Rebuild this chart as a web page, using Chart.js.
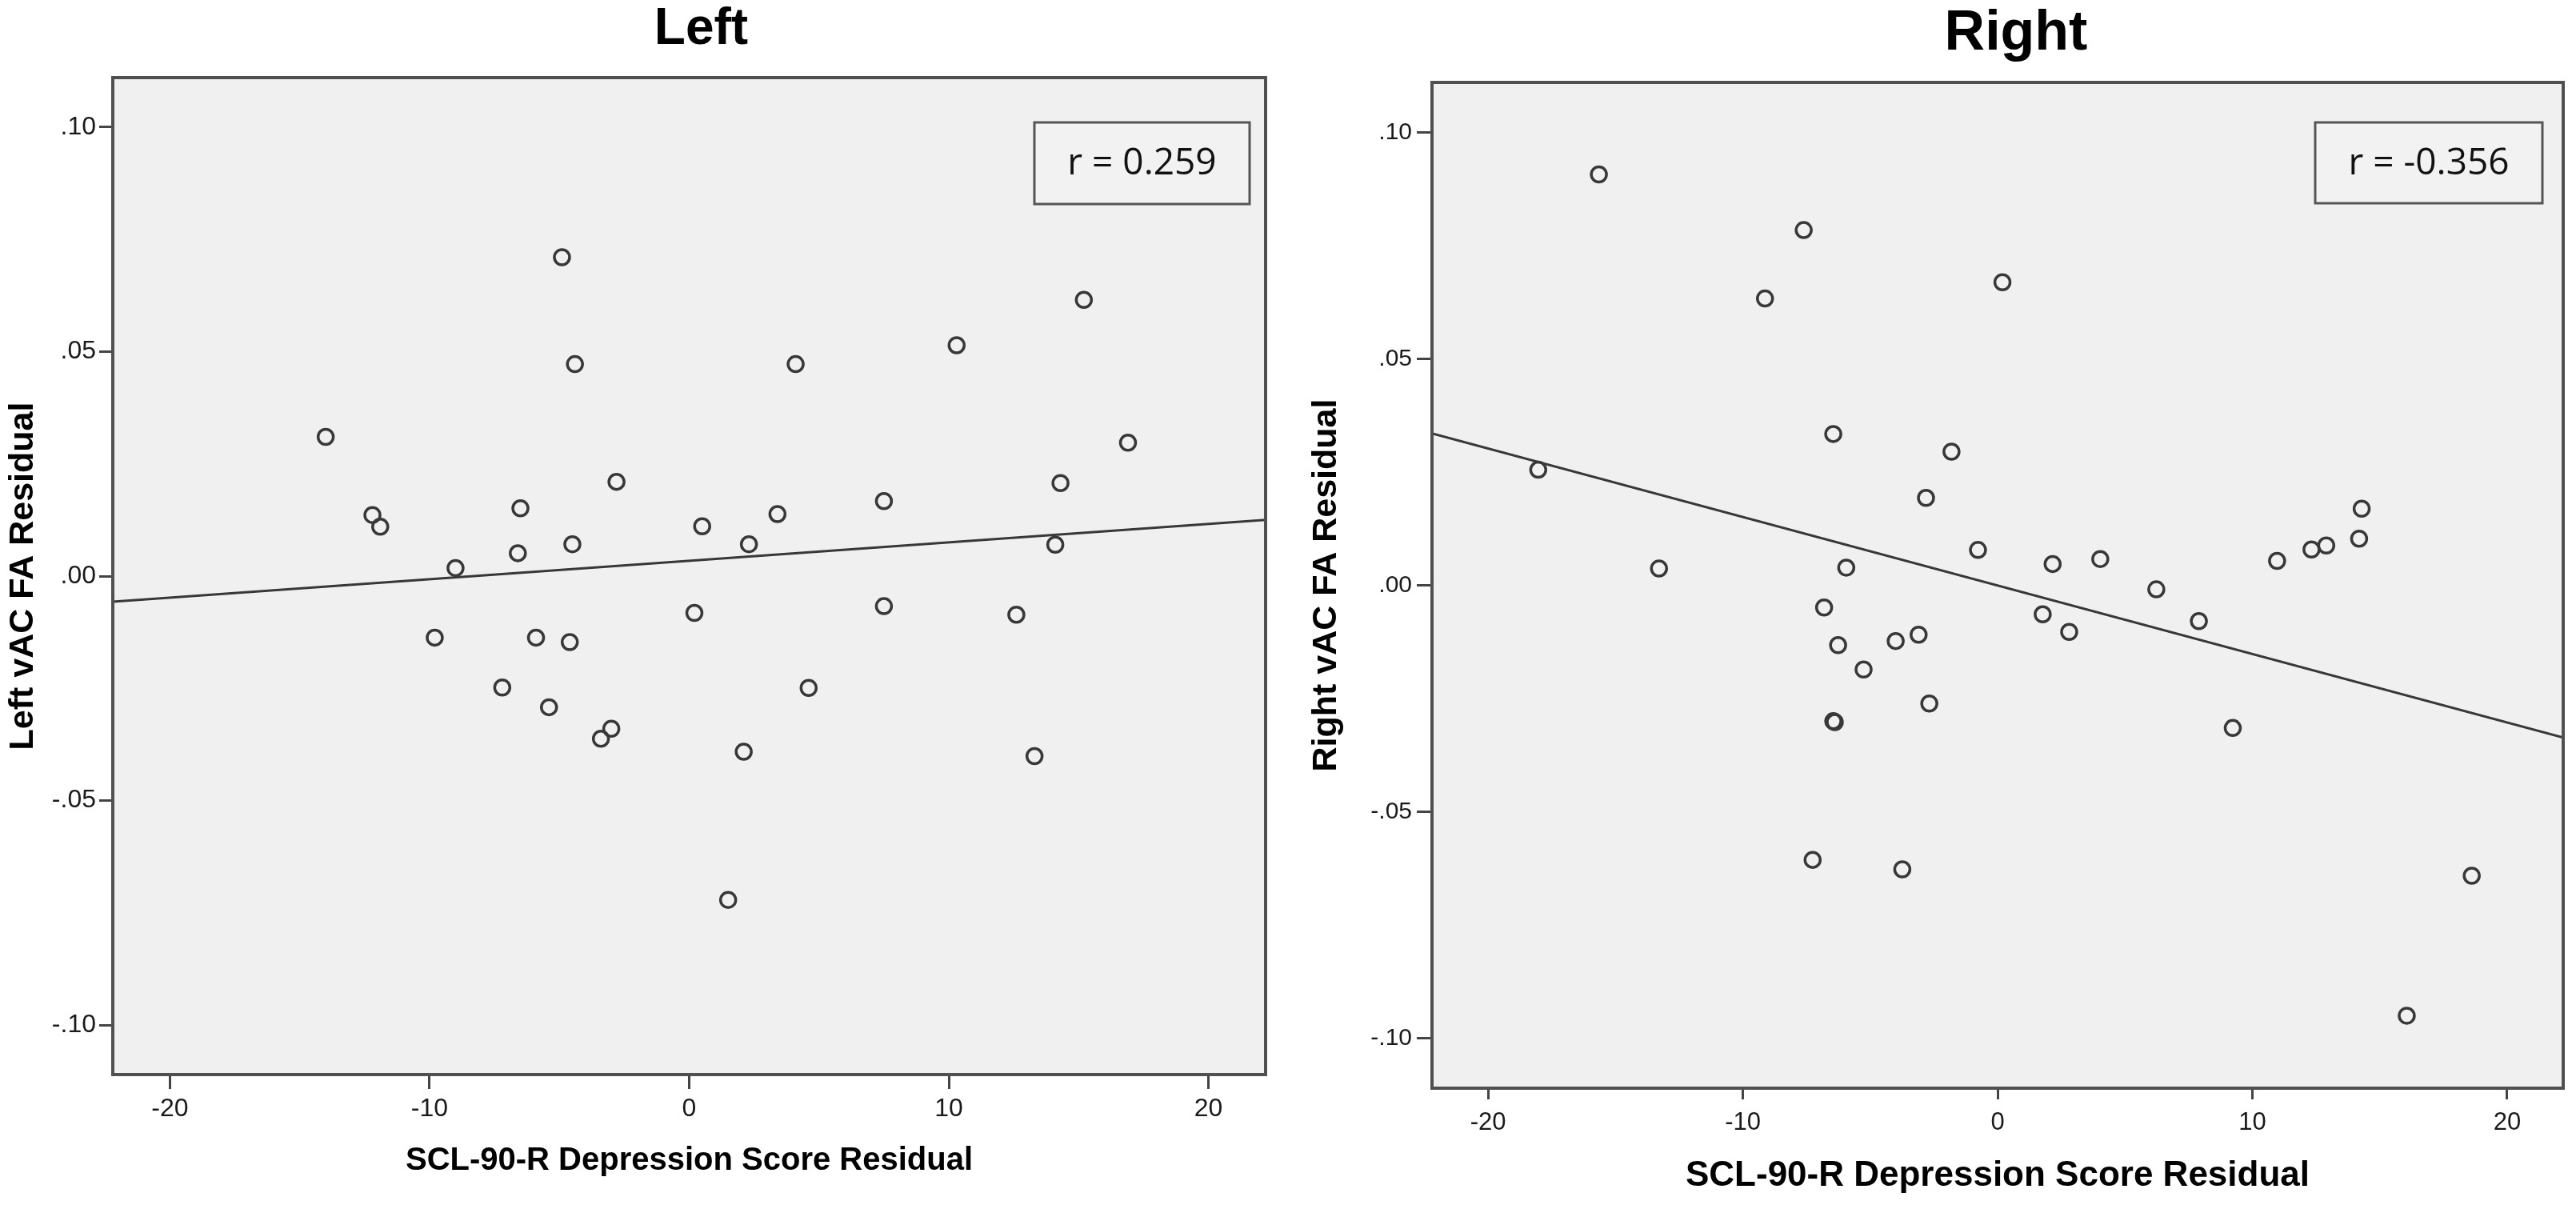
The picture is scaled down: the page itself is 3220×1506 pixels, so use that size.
<!DOCTYPE html>
<html>
<head>
<meta charset="utf-8">
<script src="https://cdn.jsdelivr.net/npm/chart.js@4.4.0/dist/chart.umd.min.js"></script>
<style>
  html, body { margin: 0; padding: 0; background: #fff; overflow: hidden; }
  .panel { position: absolute; top: 0; width: 1610px; height: 1506px; }
  #leftPanel { left: 0; }
  #rightPanel { left: 1610px; }
</style>
</head>
<body>
<div class="panel" id="leftPanel"><canvas id="leftChart"></canvas></div>
<div class="panel" id="rightPanel"><canvas id="rightChart"></canvas></div>
<script>
// Residuals
const leftX = [-14.0, -12.2, -11.9, -9.0, -6.6, -6.5, -4.9, -4.4, -4.5, -2.8, 0.5, 2.3, 3.4, 4.1, 7.5, 10.3, 15.2, 14.3, 14.1, 16.9,
  0.2, 7.5, 12.6, -9.8, -5.9, -4.6, -7.2, -5.4, -3.0, -3.4, 4.6, 2.1, 13.3, 1.5];
const leftY = [0.031, 0.0136, 0.011, 0.0018, 0.0051, 0.0151, 0.071, 0.0472, 0.0071, 0.021, 0.0111, 0.0071, 0.0138, 0.0472, 0.0167, 0.0514, 0.0615, 0.0207, 0.007, 0.0297,
  -0.0082, -0.0067, -0.0086, -0.0137, -0.0137, -0.0147, -0.0248, -0.0292, -0.034, -0.0362, -0.0249, -0.0391, -0.0401, -0.0721];

const rightX = [-15.65, -7.61, -9.13, 0.19, -6.45, -1.81, -18.03, -2.81, -0.77, -13.29, -5.94, 2.16, 4.03, 6.23, 10.97, 12.32, 12.9, 14.29, 14.19,
  -6.81, 1.77, 7.9, 2.81, -3.1, -4.0, -6.26, -5.26, -2.68, -6.45, -6.39, 9.23, -7.26, -3.74, 18.61, 16.06];
const rightY = [0.0907, 0.0784, 0.0633, 0.0669, 0.0334, 0.0295, 0.0255, 0.0193, 0.0078, 0.0037, 0.0039, 0.0047, 0.0058, -0.0009, 0.0054, 0.0079, 0.0088, 0.0169, 0.0103,
  -0.0049, -0.0064, -0.0079, -0.0103, -0.0109, -0.0123, -0.0132, -0.0186, -0.0261, -0.03, -0.0302, -0.0315, -0.0606, -0.0627, -0.0641, -0.095];

// fit line end points (at the plot edges)
const leftFitX = [-22.2, 22.2];
const leftFitY = [-0.0057, 0.0125];
const rightFitX = [-22.2, 22.2];
const rightFitY = [0.0335, -0.0336];

const rValues = [0.259, -0.356];

// axis ticks
const xTicks = [-20, -10, 0, 10, 20];
const yTicks = [-0.10, -0.05, 0, 0.05, 0.10];
const yTickLabels = ['-.10', '-.05', '.00', '.05', '.10'];

const REGULAR = "'Liberation Sans', Arial, sans-serif";
const BOX_FONT = "'Open Sans', 'Noto Sans', sans-serif";
const INK = '#383838';

// grey plot area, outer frame and the "r = ..." box
const plotFrame = {
  id: 'plotFrame',
  afterLayout(chart, args, opts) {
    // SPSS centres the title over the plot area, not over the whole canvas
    const a = chart.chartArea;
    const t = chart.titleBlock;
    if (t) {
      t.left = a.left + opts.titleShift;
      t.right = a.right + opts.titleShift;
    }
  },
  beforeDraw(chart) {
    const a = chart.chartArea;
    const ctx = chart.ctx;
    ctx.save();
    ctx.fillStyle = '#f0f0f0';
    ctx.fillRect(a.left, a.top, a.right - a.left, a.bottom - a.top);
    ctx.restore();
  },
  afterDraw(chart, args, opts) {
    const a = chart.chartArea;
    const ctx = chart.ctx;
    ctx.save();
    ctx.strokeStyle = '#505050';
    ctx.lineWidth = 4;
    ctx.strokeRect(a.left, a.top, a.right - a.left, a.bottom - a.top);

    // correlation box
    const bx = a.right - opts.inset - opts.w;
    const by = a.top + opts.top;
    ctx.fillStyle = '#f2f2f2';
    ctx.fillRect(bx, by, opts.w, opts.h);
    ctx.strokeStyle = '#555';
    ctx.lineWidth = 3;
    ctx.strokeRect(bx, by, opts.w, opts.h);
    ctx.fillStyle = '#111';
    ctx.font = '46px ' + BOX_FONT;
    ctx.textAlign = 'center';
    ctx.textBaseline = 'middle';
    ctx.fillText(opts.text, bx + opts.w / 2, by + opts.h / 2 + 1);
    ctx.restore();
  },
};

function makePanel(canvasId, cfg) {
  const points = cfg.xs.map((x, i) => ({ x: x, y: cfg.ys[i] }));
  const fit = cfg.fitX.map((x, i) => ({ x: x, y: cfg.fitY[i] }));
  const ctx = document.getElementById(canvasId).getContext('2d');
  return new Chart(ctx, {
    type: 'scatter',
    data: {
      datasets: [
        {
          label: 'Fit',
          type: 'line',
          data: fit,
          borderColor: INK,
          borderWidth: 3,
          pointRadius: 0,
          fill: false,
        },
        {
          label: 'Subjects',
          data: points,
          pointStyle: 'circle',
          pointRadius: 9.5,
          pointBorderWidth: 3.5,
          borderColor: INK,
          backgroundColor: 'rgba(0,0,0,0)',
        },
      ],
    },
    options: {
      responsive: true,
      maintainAspectRatio: false,
      animation: false,
      layout: { padding: { left: 0, right: cfg.padRight, top: 0, bottom: 0 } },
      plugins: {
        legend: { display: false },
        tooltip: { enabled: false },
        title: {
          display: true,
          text: cfg.title,
          color: '#000',
          font: { family: REGULAR, size: cfg.titleSize, weight: 'bold', lineHeight: 1 },
          padding: cfg.titlePad,
        },
        plotFrame: cfg.box,
      },
      scales: {
        x: {
          type: 'linear',
          min: -22.2,
          max: 22.2,
          afterBuildTicks: (axis) => { axis.ticks = xTicks.map((v) => ({ value: v })); },
          afterFit: (axis) => { axis.height = cfg.xHeight; },
          border: { display: true, color: '#444', width: 4 },
          grid: { display: true, drawOnChartArea: false, drawTicks: true, tickLength: cfg.xTickLen, color: '#444', lineWidth: 3 },
          ticks: {
            color: '#1a1a1a',
            font: { family: REGULAR, size: cfg.tickSize, lineHeight: 1 },
            padding: cfg.xTickPad,
            maxRotation: 0,
            callback: (value) => String(value),
          },
          title: {
            display: true,
            text: 'SCL-90-R Depression Score Residual',
            color: '#000',
            font: { family: REGULAR, size: cfg.xTitleSize, weight: 'bold', lineHeight: 1 },
            padding: { top: 0, bottom: cfg.xTitlePad },
          },
        },
        y: {
          type: 'linear',
          min: -0.111,
          max: 0.111,
          afterBuildTicks: (axis) => { axis.ticks = yTicks.map((v) => ({ value: v })); },
          afterFit: (axis) => { axis.width = cfg.yWidth; },
          border: { display: true, color: '#444', width: 4 },
          grid: { display: true, drawOnChartArea: false, drawTicks: true, tickLength: cfg.yTickLen, color: '#444', lineWidth: 3 },
          ticks: {
            color: '#1a1a1a',
            font: { family: REGULAR, size: cfg.yTickSize, lineHeight: 1 },
            padding: cfg.yTickPad,
            callback: (value, index) => yTickLabels[index],
          },
          title: {
            display: true,
            text: cfg.yTitle,
            color: '#000',
            font: { family: REGULAR, size: 43, weight: 'bold', lineHeight: 1 },
            padding: { top: cfg.yTitlePad, bottom: 0 },
          },
        },
      },
    },
    plugins: [plotFrame],
  });
}

document.addEventListener('DOMContentLoaded', function () {
  // Left hemisphere
  makePanel('leftChart', {
    xs: leftX, ys: leftY, fitX: leftFitX, fitY: leftFitY,
    title: 'Left', titleSize: 64, titlePad: { top: 5, bottom: 28 },
    padRight: 28,
    xHeight: 163, xTickLen: 18, xTickPad: 9, xTitleSize: 40, xTitlePad: 35,
    yWidth: 141, yTickLen: 17, yTickPad: 4, yTitlePad: 8,
    tickSize: 32, yTickSize: 32,
    yTitle: 'Left vAC FA Residual',
    box: { inset: 20, top: 56, w: 269, h: 102, titleShift: 15, text: 'r = ' + rValues[0].toFixed(3) },
  });

  // Right hemisphere
  makePanel('rightChart', {
    xs: rightX, ys: rightY, fitX: rightFitX, fitY: rightFitY,
    title: 'Right', titleSize: 70, titlePad: { top: 8, bottom: 25 },
    padRight: 16,
    xHeight: 146, xTickLen: 14, xTickPad: 14, xTitleSize: 44, xTitlePad: 14,
    yWidth: 180, yTickLen: 19, yTickPad: 6, yTitlePad: 27,
    tickSize: 31, yTickSize: 30,
    yTitle: 'Right vAC FA Residual',
    box: { inset: 26, top: 50, w: 284, h: 101, titleShift: 23, text: 'r = ' + rValues[1].toFixed(3) },
  });
});
</script>
</body>
</html>
